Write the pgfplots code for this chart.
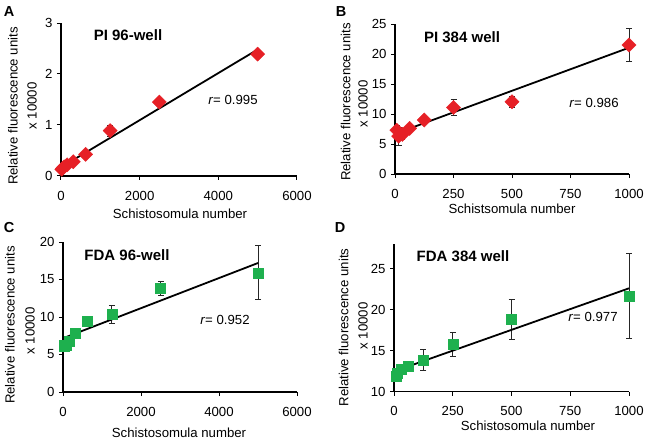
\documentclass[border=0pt]{standalone}
\usepackage{pgfplots}
\pgfplotsset{compat=1.18}
\usepackage{fontspec}
\setmainfont{Liberation Sans}

\definecolor{ptred}{RGB}{230,32,38}
\definecolor{ptgreen}{RGB}{30,176,78}
\newcommand{\fs}{\fontsize{13.2}{16}\selectfont}

\pgfplotsset{
  panel/.style={
    scale only axis, axis lines=left, clip=false,
    axis line style={-, line width=1.3pt, black},
    tick align=outside, major tick length=4pt,
    tick style={black, line width=1pt},
    xtick pos=bottom, ytick pos=left,
    tick label style={font=\fs},
    xticklabel style={yshift=-7.5pt},
    yticklabel style={xshift=-1pt},
    /pgf/number format/assume math mode=true,
    /pgf/number format/set thousands separator={},
  },
  pts/.style={only marks, mark size=5pt, mark options={rotate=#1}},
  bars/.style={draw=none, mark=none, forget plot,
    error bars/.cd, y dir=both, y explicit,
    error bar style={line width=0.9pt, black!85},
    error mark options={rotate=90, mark size=3pt, line width=0.9pt, black!85}},
  fit/.style={black, line width=1.8pt, mark=none},
}

\begin{document}
\begin{tikzpicture}
\path[use as bounding box] (0,0) rectangle (646pt,-441pt);

% ---------- A ----------
\begin{axis}[panel, at={(61pt,-176pt)}, anchor=south west,
  width=236pt, height=153pt, xmin=0, xmax=6000, ymin=0, ymax=3,
  xtick={0,2000,4000,6000}, ytick={0,1,2,3}]
\addplot[bars] table[y error=e] {
x y e
19.5 0.13 0.02
39 0.15 0.02
78 0.18 0.02
156 0.22 0.02
312 0.28 0.03
625 0.425 0.04
1250 0.89 0.11
2500 1.45 0.06
5000 2.39 0.05
};
\addplot[fit] coordinates {(19.5,0.18) (5000,2.48)};
\addplot[pts=45, mark=square*, color=ptred] table {
x y
19.5 0.13
39 0.15
78 0.18
156 0.22
312 0.28
625 0.425
1250 0.89
2500 1.45
5000 2.39
};
\end{axis}

% ---------- B ----------
\begin{axis}[panel, at={(395pt,-174pt)}, anchor=south west,
  width=234pt, height=150pt, xmin=0, xmax=1000, ymin=0, ymax=25,
  xtick={0,250,500,750,1000}, ytick={0,5,...,25}]
\addplot[bars] table[y error=e] {
x y e
7.8 7.3 0.8
15.6 6.3 1.5
31.25 6.6 0.8
62.5 7.6 0.5
125 9.0 0.5
250 11.1 1.3
500 12.05 0.95
1000 21.5 2.8
};
\addplot[fit] coordinates {(7.8,6.8) (1000,21.05)};
\addplot[pts=45, mark=square*, color=ptred] table {
x y
7.8 7.3
15.6 6.3
31.25 6.6
62.5 7.6
125 9.0
250 11.1
500 12.05
1000 21.5
};
\end{axis}

% ---------- C ----------
\begin{axis}[panel, at={(63pt,-392pt)}, anchor=south west,
  width=234pt, height=150pt, xmin=0, xmax=6000, ymin=0, ymax=20,
  xtick={0,2000,4000,6000}, ytick={0,5,...,20}]
\addplot[bars] table[y error=e] {
x y e
19.5 6.1 0.2
39 6.2 0.2
78 6.3 0.2
156 6.75 0.3
312 7.9 0.3
625 9.4 0.4
1250 10.35 1.2
2500 13.85 0.95
5000 15.9 3.6
};
\addplot[fit] coordinates {(19.5,7.2) (5000,17.2)};
\addplot[pts=0, mark=square*, color=ptgreen] table {
x y
19.5 6.1
39 6.2
78 6.3
156 6.75
312 7.9
625 9.4
1250 10.35
2500 13.85
5000 15.9
};
\end{axis}

% ---------- D ----------
\begin{axis}[panel, at={(394pt,-391.7pt)}, anchor=south west,
  width=235pt, height=147.7pt, xmin=0, xmax=1000, ymin=10, ymax=28,
  xtick={0,250,500,750,1000}, ytick={10,15,20,25}]
\addplot[bars] table[y error=e] {
x y e
7.8 11.9 0.3
15.6 12.3 0.3
31.25 12.75 0.4
62.5 13.1 0.6
125 13.85 1.25
250 15.75 1.5
500 18.8 2.45
1000 21.65 5.2
};
\addplot[fit] coordinates {(7.8,12.55) (1000,22.6)};
\addplot[pts=0, mark=square*, color=ptgreen] table {
x y
7.8 11.9
15.6 12.3
31.25 12.75
62.5 13.1
125 13.85
250 15.75
500 18.8
1000 21.65
};
\end{axis}

% ---------- text ----------
\begin{scope}[every node/.style={font=\fs, inner sep=0pt}]
\node[font=\fontsize{14.5}{16}\selectfont\bfseries] at (9pt,-12pt) {A};
\node[font=\fontsize{14.5}{16}\selectfont\bfseries] at (341pt,-12pt) {B};
\node[font=\fontsize{14.5}{16}\selectfont\bfseries] at (9pt,-228pt) {C};
\node[font=\fontsize{14.5}{16}\selectfont\bfseries] at (340pt,-228pt) {D};

\node[font=\fontsize{15}{17}\selectfont\bfseries] at (128pt,-35pt) {PI 96-well};
\node[font=\fontsize{15}{17}\selectfont\bfseries] at (462pt,-37pt) {PI 384 well};
\node[font=\fontsize{15}{17}\selectfont\bfseries] at (127pt,-255pt) {FDA 96-well};
\node[font=\fontsize{15}{17}\selectfont\bfseries] at (463pt,-256pt) {FDA 384 well};

\node at (233pt,-100pt) {\textit{r}= 0.995};
\node at (594pt,-103pt) {\textit{r}= 0.986};
\node at (225pt,-320pt) {\textit{r}= 0.952};
\node at (593pt,-317pt) {\textit{r}= 0.977};

\node at (180pt,-214pt) {Schistosomula number};
\node at (512pt,-209pt) {Schistsomula number};
\node at (179pt,-433pt) {Schistosomula number};
\node at (528pt,-425.5pt) {Schistosomula number};

\node[rotate=90] at (13pt,-106pt) {Relative fluorescence units};
\node[rotate=90] at (32pt,-106pt) {x 10000};
\node[rotate=90] at (345.7pt,-102pt) {Relative fluorescence units};
\node[rotate=90] at (363pt,-104pt) {x 10000};
\node[rotate=90] at (10pt,-325pt) {Relative fluorescence units};
\node[rotate=90] at (30pt,-331pt) {x 10000};
\node[rotate=90] at (343.7pt,-327.5pt) {Relative fluorescence units};
\node[rotate=90] at (363pt,-326pt) {x 10000};
\end{scope}
\end{tikzpicture}
\end{document}
